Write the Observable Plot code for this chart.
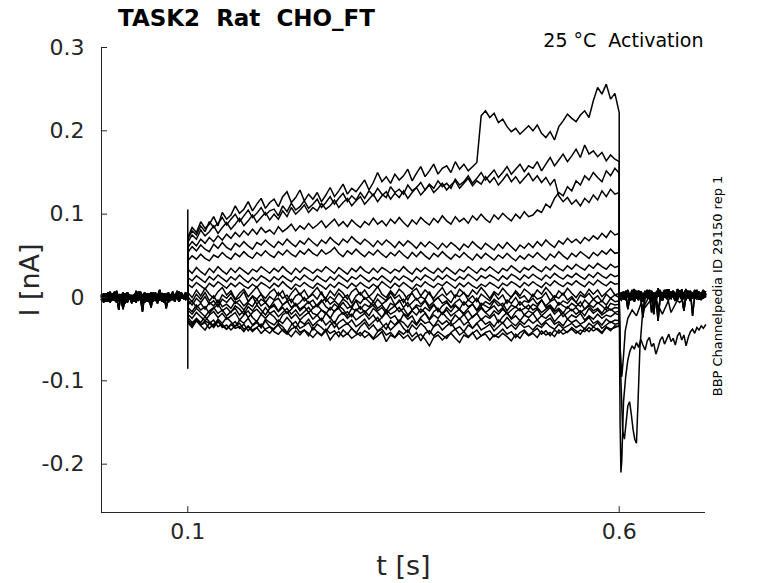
<!DOCTYPE html>
<html>
<head>
<meta charset="utf-8">
<script src="https://cdn.jsdelivr.net/npm/d3@7"></script>
<script src="https://cdn.jsdelivr.net/npm/@observablehq/plot@0.6"></script>
<style>
  html, body { margin: 0; padding: 0; background: #ffffff; }
</style>
</head>
<body>
<div id="chart"></div>
<script>
// ---- text ----
const titleText = "TASK2  Rat  CHO_FT";
const conditionText = "25 °C  Activation";
const sideText = "BBP Channelpedia ID 29150 rep 1";
const xLabel = "t [s]";
const yLabel = "I [nA]";

// ---- axes ----
const xDomain = [0, 0.7];
const yDomain = [-0.258, 0.3];
const xTicks = [0.1, 0.6];
const xTickLabels = ["0.1", "0.6"];
const yTicks = [-0.2, -0.1, 0, 0.1, 0.2, 0.3];
const yTickLabels = ["-0.2", "-0.1", "0", "0.1", "0.2", "0.3"];

// ---- sample times (s) ----
const tBase = [0,0.0025,0.005,0.0075,0.01,0.0125,0.015,0.0175,0.02,0.0225,0.025,0.0275,0.03,0.0325,0.035,0.0375,0.04,0.0425,0.045,0.0475,0.05,0.0525,0.055,0.0575,0.06,0.0625,0.065,0.0675,0.07,0.0725,0.075,0.0775,0.08,0.0825,0.085,0.0875,0.09,0.0925,0.095,0.0975,0.1];
const tStep = [0.100,0.105,0.110,0.115,0.120,0.125,0.130,0.135,0.140,0.145,
  0.150,0.155,0.160,0.165,0.170,0.175,0.180,0.185,0.190,0.195,
  0.200,0.205,0.210,0.215,0.220,0.225,0.230,0.235,0.240,0.245,
  0.250,0.255,0.260,0.265,0.270,0.275,0.280,0.285,0.290,0.295,
  0.300,0.305,0.310,0.315,0.320,0.325,0.330,0.335,0.340,0.345,
  0.350,0.355,0.360,0.365,0.370,0.375,0.380,0.385,0.390,0.395,
  0.400,0.405,0.410,0.415,0.420,0.425,0.430,0.435,0.440,0.445,
  0.450,0.455,0.460,0.465,0.470,0.475,0.480,0.485,0.490,0.495,
  0.500,0.505,0.510,0.515,0.520,0.525,0.530,0.535,0.540,0.545,
  0.550,0.555,0.560,0.565,0.570,0.575,0.580,0.585,0.590,0.595,0.600];
const tTail = [0.6,0.6025,0.605,0.6075,0.61,0.6125,0.615,0.6175,0.62,0.6225,0.625,0.6275,0.63,0.6325,0.635,0.6375,0.64,0.6425,0.645,0.6475,0.65,0.6525,0.655,0.6575,0.66,0.6625,0.665,0.6675,0.67,0.6725,0.675,0.6775,0.68,0.6825,0.685,0.6875,0.69,0.6925,0.695,0.6975,0.7];

// ---- currents in pA (0.001 nA) ----
// holding baseline before the step
const B0 = [2,-4,5,-1,7,-3,1,-6,4,0,-14,3,6,-2,2,-5,8,-1,3,-7,1,5,-3,0,6,-4,2,9,-2,-6,3,1,-4,7,-1,2,-5,4,0,6,1];
const B1 = [-3,4,-1,6,-5,2,-2,8,-4,1,3,-7,5,0,-3,4,-6,2,7,-1,-4,3,0,-12,5,2,-2,6,-5,1,4,-3,0,5,-2,8,-4,1,-1,3,0];
const B2 = [1,-6,3,-2,0,5,-4,2,-15,4,1,-3,6,-1,-5,3,0,7,-2,4,-6,1,5,-3,2,-1,-7,4,0,3,-4,6,-2,1,-5,3,7,-1,2,-3,2];
const B3 = [-2,3,-5,1,4,-3,7,0,-4,2,-1,5,-6,3,1,-2,6,-4,0,-17,3,-1,4,2,-5,6,-2,1,-3,5,0,-6,2,4,-1,3,-4,6,1,-2,3];
const B4 = [0,5,-2,3,-6,1,4,-3,2,-1,6,-4,0,3,-7,2,5,-1,1,-3,4,-5,2,6,-2,0,-4,3,1,-6,5,-1,2,-3,4,0,-5,3,1,-2,-1];
const B5 = [3,-1,1,-5,4,0,-3,6,-2,2,-6,1,4,-2,3,-4,0,5,-3,1,6,-2,-5,2,0,4,-1,-3,5,2,-13,1,3,-2,0,5,-3,2,-1,4,2];

// during the voltage step (0.1 – 0.6 s)
const P1 = [72,84,78,91,83,88,97,86,102,94, 99,110,101,106,115,104,112,119,107,114, 118,109,121,127,114,120,129,116,124,118, 126,115,123,132,121,128,136,124,131,127, 134,141,129,138,150,139,145,137,148,141, 146,154,140,149,157,145,152,160,148,155, 158,150,163,154,160,152,157,162,218,224, 216,221,210,214,205,199,203,196,201,206, 200,207,197,192,199,189,205,212,220,215, 211,219,224,216,236,252,244,256,238,245, 222];
const P2 = [70,80,75,86,79,91,84,89,96,87, 94,100,91,98,105,96,101,108,99,104, 106,98,110,103,113,105,109,116,107,112, 118,108,114,121,112,119,125,115,122,117, 126,119,128,122,131,124,120,133,126,130, 124,135,128,132,138,129,136,131,140,133, 137,131,142,135,139,146,137,143,150,141, 147,153,144,150,157,148,154,160,151,158, 155,163,152,160,168,158,165,172,163,170, 178,168,183,172,176,169,174,164,171,166, 163];
const P3 = [66,75,70,81,74,79,86,77,84,90, 82,88,95,86,92,99,90,96,102,93, 100,94,104,97,108,100,105,111,102,108, 104,113,106,110,117,108,114,119,110,116, 121,112,118,124,115,122,127,118,125,120, 128,119,126,132,123,129,135,126,131,137, 129,135,140,131,137,143,134,140,136,145, 138,144,135,141,148,139,145,137,143,149, 140,146,138,144,135,142,122,115,120,112, 117,110,119,114,123,117,128,121,130,124, 126];
const P4 = [60,67,62,70,65,72,67,74,69,76, 71,78,73,80,75,82,76,84,78,81, 76,85,79,83,88,80,86,82,89,83, 87,92,84,89,94,86,91,85,93,88, 84,91,87,95,88,92,86,94,89,96, 90,85,93,88,96,91,87,95,90,98, 92,88,97,91,95,89,98,93,100,94, 90,99,94,101,96,92,100,95,103,97, 99,105,102,112,108,119,126,122,133,128, 140,135,146,141,150,144,139,152,146,155, 149];
const P5 = [54,61,56,63,58,55,64,59,66,60, 57,65,61,67,62,58,66,63,69,64, 60,67,63,70,65,61,68,64,71,66, 62,69,65,72,67,63,70,66,73,68, 64,70,66,61,68,63,69,65,60,67, 62,68,64,59,66,61,67,63,58,65, 60,66,62,57,64,60,67,62,58,65, 61,57,64,59,66,61,56,63,59,65, 60,67,62,69,64,60,68,64,71,66, 70,65,72,68,74,70,77,72,80,75, 77];
const P6 = [44,50,46,52,47,44,51,48,54,49, 46,53,49,55,50,47,54,50,56,51, 48,55,51,57,52,49,56,52,58,53, 50,57,52,55,60,53,49,56,52,58, 53,49,55,51,57,52,48,54,50,56, 51,47,54,49,55,50,46,53,49,55, 50,46,52,48,54,49,45,52,47,53, 49,45,51,47,53,48,44,50,46,52, 48,54,49,45,52,48,55,50,46,53, 49,55,51,47,54,50,56,52,58,53, 54];
const P7 = [34,29,36,31,27,35,30,37,32,28, 35,30,36,32,28,34,31,37,33,29, 35,31,37,32,28,35,30,36,33,29, 34,31,37,33,29,36,32,28,35,31, 37,32,29,35,30,36,33,29,34,31, 37,32,28,35,31,36,32,29,35,30, 36,32,28,34,31,37,33,29,35,32, 37,33,29,35,32,38,34,30,36,33, 38,34,31,37,33,39,35,32,38,34, 40,36,33,39,35,41,37,34,40,36, 38];
const P8 = [24,20,26,22,18,25,21,27,23,19, 25,21,27,22,18,24,20,26,23,19, 25,21,26,22,19,25,21,27,23,20, 26,22,19,25,21,27,23,19,25,22, 27,23,19,24,21,26,22,18,25,21, 26,23,19,25,21,27,24,20,26,22, 27,23,20,25,22,28,24,20,26,23, 27,24,20,26,22,28,25,21,27,23, 28,24,21,27,23,29,25,22,27,24, 29,25,22,28,24,30,26,23,28,25, 27];
const P9 = [16,12,18,14,10,17,13,19,15,11, 17,13,18,14,11,16,12,18,15,11, 17,13,19,14,10,16,13,18,14,11, 17,14,10,16,12,18,15,11,17,13, 18,14,11,16,12,19,15,11,17,13, 18,14,10,16,13,19,15,12,17,14, 19,15,11,17,13,18,14,11,16,13, 18,15,11,17,14,19,16,12,18,14, 19,15,12,18,14,20,16,13,18,15, 20,16,13,19,15,21,17,14,19,16, 17];
const N1 = [6,0,9,2,11,4,-1,7,12,3, 8,-2,5,10,1,7,13,4,-1,6, 10,2,8,-3,5,11,3,9,0,6, 12,4,-1,8,2,10,5,-2,7,11, 3,9,1,6,13,4,0,8,2,10, 5,-3,7,11,2,9,4,-1,6,12, 3,8,0,10,5,1,9,4,12,6, -1,7,3,11,5,0,8,2,10,6, 1,9,4,12,6,-1,8,3,11,5, 0,7,2,10,4,9,1,6,11,3, 5];
const N2 = [1,-5,4,-2,6,-4,2,-7,3,-1, 5,-3,0,7,-5,2,-2,4,-6,1, -3,6,-1,3,-6,2,5,-4,0,4, -2,7,-5,1,-3,5,-1,3,-7,2, 6,-2,1,-5,4,0,-4,6,-1,3, -6,2,5,-3,1,-2,7,-4,0,4, -1,-6,3,1,6,-3,2,-5,4,0, -4,5,-2,3,-7,1,6,-1,2,-5, 4,-2,0,6,-4,2,-1,5,-3,1, -6,3,0,5,-2,2,-5,4,-1,3, 0];
const N3 = [-3,-9,-1,-6,1,-8,-4,-11,-2,-6, 0,-7,-3,-10,-5,1,-8,-2,-6,-12, -4,-1,-9,-5,-2,-10,-6,0,-7,-3, -11,-5,-1,-8,-4,-9,-2,-6,-13,-3, -7,0,-5,-10,-2,-8,-4,1,-9,-5, -2,-11,-6,-1,-8,-3,-10,-5,0,-7, -4,-12,-6,-2,-9,-3,-7,-1,-10,-5, -8,-2,-6,-11,-3,-7,0,-9,-4,-6, -1,-8,-3,-10,-5,-2,-9,-4,-7,-1, -6,-11,-3,-8,-2,-7,-4,-9,-1,-5, -4];
const N4 = [-9,-4,-12,-7,-14,-6,-10,-3,-11,-8, -13,-5,-9,-15,-7,-11,-2,-10,-6,-13, -8,-16,-9,-4,-12,-7,-14,-10,-5,-12, -9,-3,-11,-15,-8,-12,-6,-13,-10,-4, -14,-8,-11,-5,-13,-9,-16,-7,-10,-3, -12,-6,-15,-9,-11,-4,-13,-8,-17,-10, -6,-12,-9,-14,-5,-11,-8,-15,-7,-10, -13,-4,-10,-7,-16,-9,-12,-5,-11,-14, -8,-11,-3,-12,-9,-15,-6,-10,-13,-7, -11,-5,-14,-8,-12,-6,-10,-15,-7,-9, -8];
const N5 = [-12,-17,-9,-15,-11,-19,-13,-8,-16,-12, -18,-10,-14,-20,-11,-16,-9,-15,-21,-13, -10,-17,-12,-19,-14,-8,-16,-11,-18,-13, -9,-15,-20,-12,-17,-10,-14,-22,-13,-16, -11,-18,-13,-9,-16,-12,-19,-14,-10,-17, -13,-21,-15,-11,-18,-12,-16,-9,-14,-20, -12,-17,-10,-15,-19,-13,-8,-16,-11,-18, -14,-10,-17,-12,-20,-15,-11,-16,-13,-9, -15,-12,-18,-14,-10,-17,-13,-19,-11,-16, -12,-18,-14,-10,-16,-13,-19,-11,-15,-12, -13];
const N6 = [-15,-20,-13,-18,-23,-16,-12,-19,-15,-22, -17,-13,-21,-16,-24,-18,-14,-20,-12,-19, -16,-23,-18,-13,-20,-15,-22,-17,-12,-19, -21,-15,-18,-25,-16,-13,-20,-17,-23,-14, -19,-16,-22,-13,-18,-24,-15,-20,-17,-12, -19,-23,-16,-21,-14,-18,-26,-17,-13,-20, -15,-22,-18,-14,-21,-16,-24,-19,-13,-18, -23,-16,-20,-14,-19,-25,-17,-13,-21,-16, -19,-14,-22,-17,-12,-20,-15,-23,-18,-14, -20,-16,-22,-13,-19,-15,-21,-17,-14,-18, -16];
const N7 = [-20,-25,-18,-23,-28,-21,-17,-24,-19,-26, -22,-18,-27,-21,-16,-24,-29,-20,-25,-19, -23,-30,-21,-17,-25,-20,-27,-22,-18,-26, -21,-28,-19,-24,-31,-22,-18,-25,-20,-27, -23,-19,-26,-21,-29,-24,-18,-25,-22,-30, -20,-26,-22,-32,-24,-19,-27,-21,-25,-18, -24,-29,-21,-26,-20,-28,-23,-19,-27,-22, -25,-20,-30,-23,-18,-26,-22,-28,-21,-24, -19,-27,-22,-25,-20,-29,-23,-18,-26,-21, -24,-19,-27,-22,-26,-20,-25,-21,-23,-19, -21];
const N8 = [-27,-32,-25,-30,-23,-29,-34,-26,-31,-24, -29,-35,-27,-31,-25,-33,-28,-36,-26,-30, -33,-27,-31,-24,-30,-37,-28,-32,-26,-34, -29,-25,-33,-28,-36,-30,-26,-32,-27,-35, -31,-26,-34,-29,-24,-32,-38,-28,-33,-27, -30,-36,-28,-33,-26,-31,-29,-35,-27,-32, -28,-34,-30,-25,-33,-29,-37,-31,-26,-32, -29,-35,-27,-31,-24,-30,-34,-28,-32,-26, -31,-27,-33,-28,-25,-32,-29,-34,-26,-30, -27,-32,-29,-24,-31,-28,-33,-26,-30,-27, -28];
const N9 = [-30,-36,-28,-34,-39,-31,-27,-35,-32,-38, -33,-29,-37,-32,-40,-34,-30,-36,-28,-35, -38,-31,-35,-42,-33,-29,-37,-34,-30,-39, -32,-36,-41,-33,-29,-38,-34,-31,-37,-43, -35,-30,-38,-33,-40,-36,-31,-39,-34,-29, -37,-42,-33,-38,-31,-36,-44,-35,-32,-39, -34,-30,-38,-35,-41,-33,-37,-31,-39,-36, -32,-40,-35,-30,-37,-33,-38,-31,-36,-34, -39,-33,-36,-30,-35,-38,-32,-37,-34,-31, -36,-33,-38,-31,-35,-30,-37,-33,-29,-32, -31];
const N10 = [-29,-34,-27,-33,-30,-37,-32,-28,-36,-33, -39,-34,-31,-38,-35,-41,-36,-32,-39,-43, -37,-33,-40,-44,-38,-35,-42,-39,-46,-36, -41,-45,-38,-43,-40,-47,-39,-44,-37,-42, -46,-40,-43,-49,-41,-38,-45,-42,-48,-40, -44,-39,-47,-42,-52,-43,-40,-46,-41,-45, -49,-42,-38,-45,-41,-47,-43,-39,-46,-42, -40,-47,-43,-38,-44,-41,-48,-42,-39,-45, -41,-37,-44,-40,-46,-39,-43,-38,-42,-36, -40,-44,-37,-41,-35,-39,-43,-36,-40,-34, -35];
const N11 = [-24,-30,-26,-33,-28,-31,-36,-29,-34,-38, -32,-37,-35,-41,-34,-39,-36,-43,-38,-35, -41,-44,-38,-42,-47,-40,-45,-39,-43,-48, -42,-46,-40,-51,-44,-41,-47,-43,-49,-45, -42,-48,-44,-50,-46,-41,-53,-45,-48,-43, -49,-45,-52,-47,-44,-50,-58,-48,-45,-51, -46,-43,-49,-54,-45,-48,-42,-50,-46,-44, -51,-45,-48,-43,-47,-52,-44,-49,-41,-46, -43,-48,-40,-45,-42,-47,-39,-44,-41,-38, -43,-39,-41,-36,-40,-37,-42,-35,-38,-36, -34];

// after the step (0.6 – 0.7 s)
const T0 = [0,6,-2,8,2,-4,5,10,1,-3,7,3,-1,9,4,-2,6,0,11,3,-3,5,8,1,-1,7,2,10,4,-2,6,1,8,-1,5,3,9,0,6,2,7];
const T1 = [0,-3,4,1,7,-2,3,9,-1,5,2,-5,6,0,8,3,-2,5,1,7,-4,3,10,2,-1,6,0,4,8,-3,2,5,-1,7,3,0,6,-2,4,9,3];
const T2 = [0,3,-1,6,-14,2,5,-2,8,1,4,-3,7,2,-1,5,-20,3,6,0,4,9,-2,3,7,1,-4,5,2,8,0,-2,6,3,-1,5,2,7,-3,4,1];
const T3 = [0,5,1,-3,6,2,9,-1,4,7,0,-24,3,6,1,8,-2,4,2,7,-1,5,3,10,0,6,-3,4,8,1,-16,5,2,6,0,9,3,-2,5,1,4];
const T4 = [0,2,7,-2,4,1,6,-5,3,8,2,-1,5,0,9,3,-3,6,-28,2,4,7,-1,5,1,8,3,-2,6,0,4,10,2,-4,5,3,7,-1,2,6,3];
const T5 = [0,4,-2,5,9,1,-3,6,3,0,7,2,8,-1,4,-18,3,6,1,9,-2,5,2,7,0,4,-4,6,3,10,1,-2,5,8,-22,3,6,1,4,-1,5];

// tail currents with their own sample times
const tS1 = [0.6,0.601,0.602,0.603,0.604,0.605,0.6075,0.61,0.6125,0.615,0.6175,0.62,0.6225,0.625,0.6275,0.63,0.6325,0.635,0.6375,0.64,0.6425,0.645,0.6475,0.65,0.6525,0.655,0.6575,0.66,0.6625,0.665,0.6675,0.67,0.6725,0.675,0.6775,0.68,0.6825,0.685,0.6875,0.69,0.6925,0.695,0.6975,0.7];
const S1  = [0,-150,-210,-195,-160,-125,-95,-75,-64,-58,-62,-54,-60,-50,-57,-63,-52,-48,-59,-55,-68,-60,-51,-47,-56,-50,-44,-53,-49,-57,-46,-42,-51,-45,-58,-48,-41,-38,-43,-36,-39,-34,-37,-33];
const tS2 = [0.6,0.602,0.604,0.606,0.608,0.61,0.612,0.614,0.616,0.618,0.62,0.622,0.624,0.627,0.63,0.635,0.64,0.645,0.65,0.655,0.66,0.67,0.68,0.69,0.7];
const S2  = [0,-100,-160,-170,-150,-130,-125,-140,-158,-170,-175,-120,-60,-20,-8,2,-10,3,-2,4,-18,2,5,0,3];
const tS3 = [0.6,0.601,0.603,0.605,0.607,0.61,0.615,0.62,0.625,0.63,0.64,0.65,0.66,0.67,0.68,0.69,0.7];
const S3  = [0,-60,-95,-70,-40,-25,-15,-22,-8,-12,2,-20,3,-6,4,-2,1];

// capacitive transient at step onset
const tSpike = [0.1, 0.1];
const spike = [105, -85];

// ---- build table ----
const steps = [P1,P2,P3,P4,P5,P6,P7,P8,P9,N1,N2,N3,N4,N5,N6,N7,N8,N9,N10,N11];
const bases = [B0,B1,B2,B3,B4,B5];
const tails = [T0,T1,T2,T3,T4,T5];
const specialTails = {17: [tS3, S3], 18: [tS2, S2], 19: [tS1, S1]};

const rows = [];
steps.forEach((s, i) => {
  const b = bases[i % bases.length];
  tBase.forEach((t, j) => rows.push({t, v: b[j] / 1000, trace: i}));
  tStep.forEach((t, j) => rows.push({t, v: s[j] / 1000, trace: i}));
  if (specialTails[i]) {
    const [tt, vv] = specialTails[i];
    tt.forEach((t, j) => rows.push({t, v: vv[j] / 1000, trace: i}));
  } else {
    const tl = tails[i % tails.length];
    tTail.forEach((t, j) => rows.push({t, v: tl[j] / 1000, trace: i}));
  }
});
tSpike.forEach((t, j) => rows.push({t, v: spike[j] / 1000, trace: "spike"}));

const axisColor = "#262626";
const yBottom = yDomain[0];

const chart = Plot.plot({
  width: 778,
  height: 583,
  marginLeft: 101,
  marginRight: 73,
  marginTop: 47,
  marginBottom: 71,
  x: {domain: xDomain},
  y: {domain: yDomain},
  style: {fontFamily: "DejaVu Sans", background: "#ffffff", color: axisColor},
  marks: [
    Plot.line(rows, {x: "t", y: "v", z: "trace", stroke: "#000000", strokeWidth: 1.5, strokeLinejoin: "miter", strokeMiterlimit: 2}),
    // axis lines
    Plot.ruleX([xDomain[0]], {stroke: axisColor, strokeWidth: 1}),
    Plot.ruleY([yBottom], {stroke: axisColor, strokeWidth: 1}),
    // inward ticks
    Plot.ruleY(yTicks, {x1: 0, x2: 0.007, stroke: axisColor}),
    Plot.ruleX(xTicks, {y1: yBottom, y2: yBottom + 0.007, stroke: axisColor}),
    Plot.axisY({ticks: yTicks, tickSize: 0, tickPadding: 17, fontSize: 22, fill: axisColor,
      tickFormat: d => yTickLabels[yTicks.indexOf(d)], label: null}),
    Plot.axisX({ticks: xTicks, tickSize: 0, tickPadding: 11, fontSize: 22, fill: axisColor,
      tickFormat: d => xTickLabels[xTicks.indexOf(d)], label: null}),
    // labels
    Plot.text([yLabel], {frameAnchor: "left", dx: -71, rotate: -90, textAnchor: "middle", lineAnchor: "middle", fontSize: 27, fill: axisColor}),
    Plot.text([xLabel], {frameAnchor: "bottom", dy: 54, textAnchor: "middle", lineAnchor: "middle", fontSize: 27, fill: axisColor}),
    Plot.text([titleText], {frameAnchor: "top-left", dx: 145, dy: -29, textAnchor: "middle", lineAnchor: "middle", fontSize: 23, fontWeight: "bold", fill: "#000000"}),
    Plot.text([conditionText], {frameAnchor: "top-right", dx: -2, dy: -7, textAnchor: "end", lineAnchor: "middle", fontSize: 19, fill: "#000000"}),
    Plot.text([sideText], {frameAnchor: "right", dx: 12, dy: 6, rotate: -90, textAnchor: "middle", lineAnchor: "middle", fontSize: 13, fill: "#000000"})
  ]
});
document.getElementById("chart").appendChild(chart);
</script>
</body>
</html>
